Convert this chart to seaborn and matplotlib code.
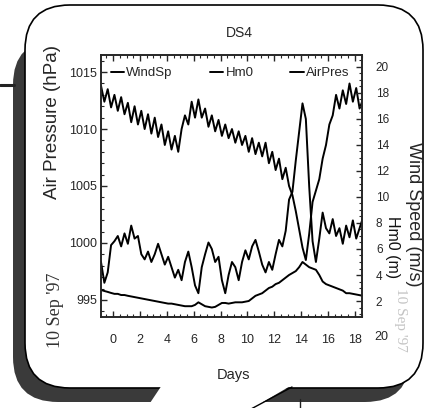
import numpy as np
import pandas as pd
import matplotlib
matplotlib.use("Agg")
import matplotlib.pyplot as plt
import matplotlib.transforms as mtransforms
from matplotlib.patches import FancyBboxPatch, Polygon
from matplotlib.lines import Line2D
from matplotlib.ticker import MultipleLocator
import seaborn as sns

# ---- data: 6-hourly records at station DS4, days after 10 Sep '97 ----
start_day = -0.9
step_day = 0.25
n_obs = 79

air_pressure = [  # hPa
    1013.8, 1012.4, 1013.5, 1011.9, 1013.0, 1011.6, 1012.8, 1011.3,
    1012.3, 1010.6, 1012.0, 1010.4, 1011.6, 1010.0, 1011.3, 1009.6,
    1011.0, 1009.3, 1010.4, 1008.6, 1009.8, 1008.2, 1009.4, 1008.0,
    1010.0, 1011.2, 1010.4, 1012.4, 1011.0, 1012.6, 1011.0, 1011.8,
    1010.2, 1011.2, 1009.8, 1010.8, 1009.4, 1010.4, 1009.2, 1010.0,
    1008.8, 1009.8, 1008.6, 1009.4, 1008.0, 1009.2, 1007.8, 1008.8,
    1007.6, 1008.8, 1007.0, 1008.0, 1006.4, 1007.4, 1005.6, 1006.6,
    1005.0, 1004.2, 1002.8, 1001.2, 999.6, 998.5, 1000.8, 1003.6,
    1004.6, 1005.6, 1007.4, 1008.6, 1010.4, 1011.2, 1013.0, 1011.8,
    1013.4, 1012.2, 1014.0, 1012.4, 1013.6, 1011.8, 1012.6]

wind_speed = [  # m/s
    5.0, 3.4, 4.2, 6.3, 6.6, 7.0, 6.2, 7.2,
    6.4, 7.8, 6.8, 7.0, 5.6, 5.2, 5.8, 5.0,
    5.6, 6.4, 5.6, 4.8, 5.4, 4.6, 3.8, 4.4,
    3.6, 5.0, 5.8, 4.6, 3.2, 2.6, 4.6, 5.6,
    6.5, 6.0, 5.0, 5.4, 3.6, 2.6, 4.0, 5.0,
    4.6, 3.6, 5.0, 5.9, 5.2, 6.2, 6.7, 5.8,
    4.8, 4.2, 5.0, 4.4, 5.6, 6.7, 6.2, 7.4,
    9.8, 10.4, 12.8, 15.0, 17.2, 16.0, 10.8, 6.6,
    5.0, 6.8, 8.8, 7.6, 7.2, 8.3, 7.0, 7.6,
    6.4, 7.8, 6.9, 8.2, 6.8, 7.6, 8.4]

hm0 = [  # significant wave height, m
    2.85, 2.77, 2.70, 2.62, 2.55, 2.55, 2.46, 2.46,
    2.40, 2.35, 2.30, 2.25, 2.20, 2.15, 2.10, 2.05,
    2.00, 1.95, 1.90, 1.85, 1.80, 1.80, 1.75, 1.70,
    1.65, 1.60, 1.60, 1.60, 1.70, 1.90, 1.75, 1.60,
    1.55, 1.50, 1.55, 1.70, 1.85, 1.85, 1.80, 1.85,
    1.90, 1.90, 1.90, 1.95, 2.00, 2.20, 2.40, 2.50,
    2.60, 2.80, 3.00, 3.10, 3.30, 3.40, 3.60, 3.80,
    4.00, 4.15, 4.30, 4.60, 5.00, 4.80, 4.60, 4.50,
    4.40, 4.00, 3.50, 3.30, 3.20, 3.10, 3.00, 2.90,
    2.80, 2.60, 2.60, 2.55, 2.50, 2.45, 2.40]

day_ticks = [0, 2, 4, 6, 8, 10, 12, 14, 16, 18]
pressure_ticks = [995, 1000, 1005, 1010, 1015]
right_ticks = [2, 4, 6, 8, 10, 12, 14, 16, 18, 20]
series_names = ["WindSp", "Hm0", "AirPres"]

days = np.round(start_day + step_day * np.arange(n_obs), 3)
df = pd.DataFrame({"day": days, "AirPres": air_pressure,
                   "WindSp": wind_speed, "Hm0": hm0})

# ---- style ----
sns.set_style("ticks")
plt.rcParams["font.family"] = ["Liberation Sans", "DejaVu Sans"]
plt.rcParams["axes.linewidth"] = 1.2

W, H = 436, 408
fig = plt.figure(figsize=(W / 100, H / 100), dpi=100)
fig.patch.set_facecolor("white")

# ---- rounded panel with drop shadow (pixel coordinates) ----
deco = fig.add_axes([0, 0, 1, 1], zorder=0)
deco.set_xlim(0, W)
deco.set_ylim(H, 0)
deco.axis("off")
box = "round,pad=0,rounding_size=45"
deco.add_patch(FancyBboxPatch((13, 40), 397, 362, boxstyle=box,
                              fc="#3a3a3a", ec="none", zorder=1))
deco.add_patch(FancyBboxPatch((25, 5), 398, 383, boxstyle=box,
                              fc="white", ec="black", lw=1.2, zorder=2))
deco.add_patch(Polygon([(146, 409), (162, 385), (292, 385), (251, 409)],
                       closed=True, fc="white", ec="none", zorder=3))
deco.plot([292, 251], [387, 409], color="black", lw=1.0, zorder=4)
deco.plot([0, 14], [85, 85], color="#222222", lw=2.2, zorder=4)
deco.plot([300, 300], [399, 408], color="#222222", lw=1.0, zorder=4)

deco.text(55, 310, "10 Sep '97", rotation=90, ha="center", va="center",
          fontsize=13, family=["Liberation Serif", "DejaVu Serif"],
          color="#333333", zorder=5)
deco.text(400, 320, "10 Sep '97", rotation=270, ha="center", va="center",
          fontsize=11, family=["Liberation Serif", "DejaVu Serif"],
          color="#c4c4c4", zorder=5)
deco.text(392, 247, "Hm0 (m)", rotation=270, ha="center", va="center",
          fontsize=11.5, color="#111111", zorder=5)

# ---- main axes ----
ax = fig.add_axes([101 / W, 1 - 317 / H, 261 / W, 262 / H], zorder=2)
ax2 = ax.twinx()
ax2.set_zorder(3)
ax2.patch.set_visible(False)

line_kw = dict(color="black", lw=1.4, legend=False)
sns.lineplot(data=df, x="day", y="AirPres", ax=ax, **line_kw)
sns.lineplot(data=df, x="day", y="WindSp", ax=ax2, **line_kw)
sns.lineplot(data=df, x="day", y="Hm0", ax=ax2, **line_kw)

ax.set_xlim(-0.9, 18.53)
ax.set_ylim(993.5, 1016.5)
ax2.set_ylim(0.77, 20.92)

ax.set_xticks(day_ticks)
ax.xaxis.set_minor_locator(MultipleLocator(0.5))
ax.set_yticks(pressure_ticks)
ax.yaxis.set_minor_locator(MultipleLocator(1))
ax2.set_yticks(right_ticks)
ax2.yaxis.set_minor_locator(MultipleLocator(0.5))

ax.tick_params(axis="x", which="both", direction="in", top=True,
               labelsize=9, pad=12)
ax.tick_params(axis="y", which="both", direction="in", labelsize=9, pad=3)
ax.tick_params(which="major", length=4, width=1)
ax.tick_params(which="minor", length=2.5, width=0.8)
ax2.tick_params(axis="y", which="both", direction="in", labelsize=8.5,
                pad=10)
ax2.tick_params(which="major", length=4, width=1)
ax2.tick_params(which="minor", length=2.5, width=0.8)

# last day label sits just past the plotted range
ax.text(20, -0.055, "20", transform=mtransforms.blended_transform_factory(
    ax.transData, ax.transAxes), ha="center", va="top", fontsize=9,
    clip_on=False)

ax.set_xlabel("Days", fontsize=10.5)
ax.xaxis.set_label_coords(0.506, -0.221)
ax.xaxis.label.set_va("center")
ax.set_ylabel("Air Pressure (hPa)", fontsize=13.5)
ax.yaxis.set_label_coords(-0.184, 0.744)
ax.yaxis.label.set_va("center")
ax2.set_ylabel("Wind Speed (m/s)", fontsize=13, rotation=270)
ax2.yaxis.set_label_coords(1.199, 0.393)
ax2.yaxis.label.set_va("center")

ax.text(0.53, 1.084, "DS4", transform=ax.transAxes, ha="center",
        va="center", fontsize=10)

handles = [Line2D([], [], color="black", lw=1.4) for _ in series_names]
ax2.legend(handles, series_names, loc="center", ncol=3,
           bbox_to_anchor=(0.495, 0.931), frameon=False, fontsize=9.5,
           handlelength=1.0, handletextpad=0.2, columnspacing=2.8,
           borderpad=0, borderaxespad=0)

fig.savefig("out.png", dpi=100, facecolor="white")
